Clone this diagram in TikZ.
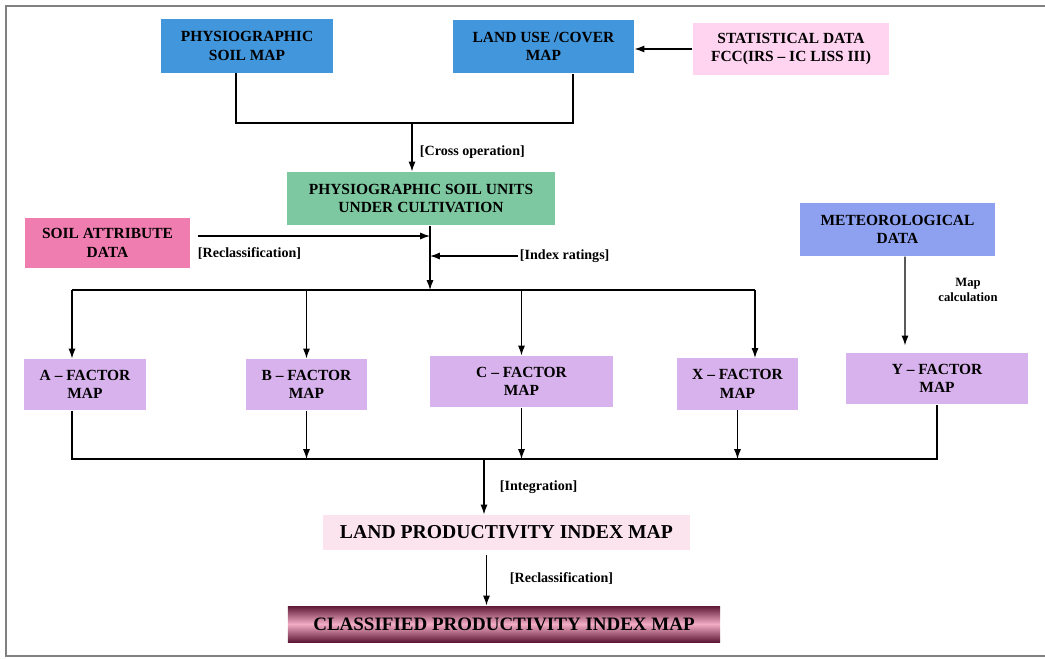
\documentclass[tikz,border=0pt]{standalone}
\usepackage{fontspec}
\setmainfont{Liberation Serif}
\usetikzlibrary{arrows.meta,calc}

\definecolor{mapblue}{RGB}{66,150,220}
\definecolor{statpink}{RGB}{255,212,240}
\definecolor{unitgreen}{RGB}{125,200,160}
\definecolor{attrpink}{RGB}{240,125,175}
\definecolor{metblue}{RGB}{142,160,240}
\definecolor{factorlilac}{RGB}{216,178,236}
\definecolor{lpipink}{RGB}{252,228,238}
\definecolor{cpidark}{RGB}{95,25,55}
\definecolor{cpipink}{RGB}{242,172,196}

\tikzset{
  box/.style = {draw = none, align = center, inner sep = 2pt,
                font = \fontsize{11}{13}\selectfont\bfseries},
  factor/.style = {box, fill = factorlilac, minimum width = 3.05cm, minimum height = 1.275cm},
  lbl/.style = {font = \fontsize{10}{12}\selectfont\bfseries, inner sep = 1pt},
}

\begin{document}
\begin{tikzpicture}[x = 0.025cm, y = -0.025cm, >={Latex[length=7pt,width=5pt]}, line width = 0.8pt]
\useasboundingbox (0, 0) rectangle (1045, 658);
\draw [gray, line width = 1.5pt] (1045, 6) -- (6, 6) -- (6, 656) -- (1045, 656);
% input maps
\node [box, fill = mapblue, minimum width = 4.3cm, minimum height = 1.325cm] (psm) at (247, 46) {PHYSIOGRAPHIC\\SOIL MAP};
\node [box, fill = mapblue, minimum width = 4.525cm, minimum height = 1.325cm] (lum) at (543.5, 46.5) {LAND USE /COVER\\MAP};
\node [box, fill = statpink, minimum width = 4.9cm, minimum height = 1.3cm] (sd) at (791, 49) {STATISTICAL DATA\\FCC(IRS -- IC LISS III)};
\node [box, fill = unitgreen, minimum width = 6.7cm, minimum height = 1.325cm] (psu) at (421, 198.5) {PHYSIOGRAPHIC SOIL UNITS\\UNDER CULTIVATION};
\node [box, fill = attrpink, minimum width = 4.125cm, minimum height = 1.25cm] (sad) at (107.5, 243) {SOIL ATTRIBUTE\\DATA};
\node [box, fill = metblue, minimum width = 4.875cm, minimum height = 1.325cm] (met) at (897.5, 229.5) {METEOROLOGICAL\\DATA};
% factor maps
\node [factor] (fa) at (85, 384.5) {A -- FACTOR\\MAP};
\node [factor, minimum width = 3.025cm] (fb) at (306.5, 384.5) {B -- FACTOR\\MAP};
\node [factor, minimum width = 4.575cm] (fc) at (521.5, 381.5) {C -- FACTOR\\MAP};
\node [factor, minimum width = 3.025cm] (fx) at (737.5, 384) {X -- FACTOR\\MAP};
\node [factor, minimum width = 4.55cm] (fy) at (937, 378.5) {Y -- FACTOR\\MAP};
% results
\node [box, fill = lpipink, minimum width = 9.175cm, minimum height = 0.875cm, font = \fontsize{14}{16}\selectfont\bfseries] (lpi) at (506.5, 532.5) {LAND PRODUCTIVITY INDEX MAP};
\node [box, top color = cpidark, bottom color = cpidark, middle color = cpipink, minimum width = 10.8cm, minimum height = 0.9cm, font = \fontsize{13.5}{16}\selectfont\bfseries] (cpi) at (504, 624) {CLASSIFIED PRODUCTIVITY INDEX MAP};
% labels
\node [lbl, anchor = west] (crosslbl) at (418, 152) {[Cross operation]};
\node [lbl, anchor = west] (reclslbl) at (196, 253) {[Reclassification]};
\node [lbl, anchor = west] (idxlbl) at (518, 256) {[Index ratings]};
\node [lbl, align = center, font = \fontsize{9}{11}\selectfont\bfseries] (calclbl) at (968, 290) {Map\\calculation};
\node [lbl, anchor = west] (intlbl) at (498, 487) {[Integration]};
\node [lbl, anchor = west] (recl2lbl) at (508, 578) {[Reclassification]};
% junctions
\coordinate (cross) at (412, 123);
\coordinate (hub) at (430, 290);
\coordinate (reclin) at (430, 236);
\coordinate (merge) at (484, 459);
\coordinate (abr) at ($(fa.north) + (-13, 0)$);
\coordinate (xbr) at ($(fx.north) + (17.5, 0)$);
\coordinate (rc) at ($(lpi.south) + (-20, 4)$);
% connectors
\draw ($(psm.south) + (-11, 0)$) |- (cross) -| ($(lum.south) + (29.5, 0)$);
\draw [->] (cross) -- (psu.north -| cross);
\draw [->] (sd.west) -- (lum.east |- sd.west);
\draw [->] ($(psu.south) + (9, 0)$) -- (hub);
\draw [->] ($(sad.east) + (7, -7)$) -- (reclin);
\draw [->] (idxlbl.west) -- (hub |- idxlbl.west);
\draw (abr |- hub) -- (xbr |- hub);
\draw [->] (abr |- hub) -- (abr);
\draw [->] (fb.north |- hub) -- (fb.north);
\draw [->] (fc.north |- hub) -- (fc.north);
\draw [->] (xbr |- hub) -- (xbr);
\draw [->, shorten >= 5pt] ($(met.south) + (7.5, 0)$) -- ($(fy.north) + (-32, 0)$);
\draw ($(fa.south) + (-13, 0)$) |- (fy.south |- merge) -- (fy.south);
\draw [->] (fb.south) -- (fb.south |- merge);
\draw [->] (fc.south) -- (fc.south |- merge);
\draw [->] (fx.south) -- (fx.south |- merge);
\draw [->] (merge) -- (lpi.north -| merge);
\draw [->] (rc) -- (rc |- cpi.north);
\end{tikzpicture}
\end{document}
